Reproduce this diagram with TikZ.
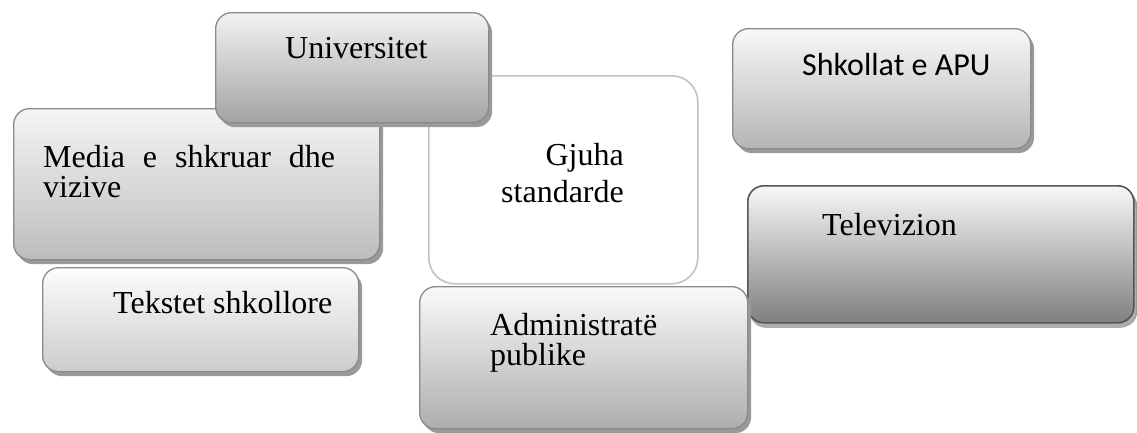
\documentclass[tikz,border=0pt]{standalone}
\usepackage{fontspec}
\setmainfont{Liberation Serif}
\newfontfamily\calibrifont{Carlito}
\usetikzlibrary{shadows}
\definecolor{edgegray}{HTML}{8A8A8A}
\definecolor{darkedge}{HTML}{555555}
\definecolor{shadgray}{HTML}{9A9A9A}
\definecolor{softedge}{HTML}{C2C2C2}
\tikzset{
  box/.style={rectangle, rounded corners=16pt, draw=edgegray, line width=1.3pt,
    inner sep=0pt, anchor=north west,
    general shadow={fill=shadgray, shadow xshift=3.5pt, shadow yshift=-4.5pt}},
  txt/.style={inner sep=0pt, font=\fontsize{32}{37}\selectfont, anchor=base west},
}
\begin{document}
\begin{tikzpicture}[x=1pt,y=-1pt]
\useasboundingbox (0,0) rectangle (1137,432);
% Gjuha standarde (back)
\node[rectangle, rounded corners=26pt, draw=softedge, line width=1.6pt, fill=white,
  inner sep=0pt, anchor=north west, minimum width=269pt, minimum height=208pt]
  (gjuha) at (428,75) {};
% Media
\node[box, top color=white!96!black, bottom color=white!74!black,
  minimum width=366pt, minimum height=151pt] (media) at (13,108) {};
% Universitet
\node[box, top color=white!95!black, bottom color=white!64!black,
  minimum width=273pt, minimum height=110pt] (univ) at (215,12) {};
% Tekstet shkollore
\node[box, top color=white!99!black, bottom color=white!80!black,
  minimum width=316pt, minimum height=104pt] (tekst) at (42,267) {};
% Shkollat e APU
\node[box, top color=white!97!black, bottom color=white!71!black,
  minimum width=298pt, minimum height=120pt] (shkoll) at (732,28) {};
% Televizion
\node[box, draw=darkedge, line width=1.6pt, top color=white!97!black, bottom color=white!50!black,
  general shadow={fill=white!68!black, shadow xshift=2pt, shadow yshift=-5pt},
  minimum width=386pt, minimum height=137pt] (tv) at (747,185) {};
% Administrate publike
\node[box, top color=white!98!black, bottom color=white!68!black,
  minimum width=328pt, minimum height=142pt] (admin) at (419,286) {};
% Texts
\node[txt] (univt) at (285,58) {Universitet};
\node[txt] (mediat1) at (43,167) {\hbox to 292pt{Media\hfill e\hfill shkruar\hfill dhe}};
\node[txt] (mediat2) at (43,197) {vizive};
\node[txt, anchor=base east] (gjuhat1) at (624,165) {Gjuha};
\node[txt, anchor=base east] (gjuhat2) at (624,202) {standarde};
\node[txt] (tekstt) at (113,313) {Tekstet shkollore};
\node[txt, font=\calibrifont\fontsize{32}{37}\selectfont] (shkollt) at (802,75) {Shkollat e APU};
\node[txt] (tvt) at (822,235) {Televizion};
\node[txt] (admint1) at (490,335) {Administratë};
\node[txt] (admint2) at (490,365) {publike};
\end{tikzpicture}
\end{document}
